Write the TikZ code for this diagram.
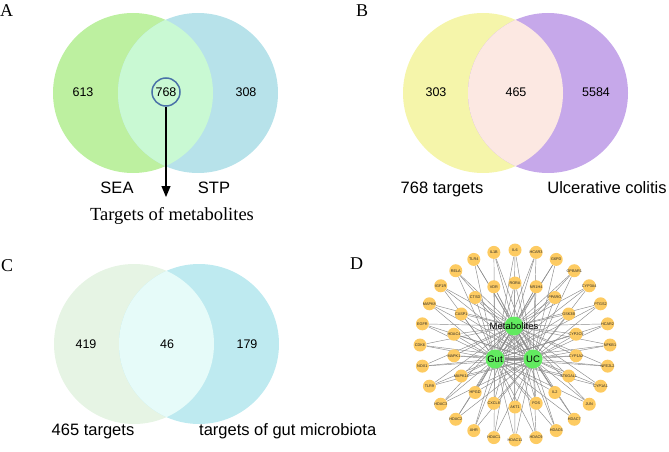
\documentclass[tikz,border=0pt]{standalone}
\usepackage{fontspec}
\setmainfont{Liberation Serif}
\setsansfont{Liberation Sans}
\usetikzlibrary{arrows.meta}
\pgfdeclarelayer{bg}
\pgfsetlayers{bg,main}
\definecolor{aL}{HTML}{BDF0A0}
\definecolor{aR}{HTML}{B7E2EA}
\definecolor{aI}{HTML}{C9F9D3}
\definecolor{bL}{HTML}{F5F5AA}
\definecolor{bR}{HTML}{C6A8EA}
\definecolor{bI}{HTML}{FCE8E2}
\definecolor{cL}{HTML}{E6F4E4}
\definecolor{cR}{HTML}{BEEAF0}
\definecolor{cI}{HTML}{E6FBF9}
\definecolor{nodeY}{HTML}{FDCB62}
\definecolor{hubG}{HTML}{62EA60}
\definecolor{edgeG}{HTML}{8A8A8A}
\definecolor{ringB}{HTML}{4A72A8}
\begin{document}
\begin{tikzpicture}[x=1pt,y=-1pt,
  num/.style={font=\sffamily\fontsize{12.5}{14}\selectfont, anchor=base, inner sep=0},
  vcap/.style={font=\sffamily\fontsize{16.5}{18}\selectfont, anchor=base, inner sep=0},
  letter/.style={font=\fontsize{18}{20}\selectfont, anchor=base west, inner sep=0},
  serifcap/.style={font=\fontsize{18.5}{20}\selectfont, anchor=base, inner sep=0},
  tgt/.style={circle, fill=nodeY, minimum size=13pt, inner sep=0},
  tlab/.style={font=\sffamily\fontsize{3.8}{4}\selectfont, text=black!85, inner sep=0},
  hub/.style={circle, fill=hubG, minimum size=19pt, inner sep=0},
  hlab/.style={font=\sffamily\fontsize{9.5}{10}\selectfont, inner sep=0},
  edge/.style={draw=edgeG, line width=0.45pt}]
\useasboundingbox (0,0) rectangle (669,452);

% ---------- Panel A ----------
\node[letter] (lA) at (0,17) {A};
\fill[aL] (133,93) circle[radius=80pt];
\fill[aR] (198,93) circle[radius=80pt];
\begin{scope}
  \clip (133,93) circle[radius=80pt];
  \fill[aI] (198,93) circle[radius=80pt];
\end{scope}
\node[num] (a613) at (83,96) {613};
\node[num] (a308) at (246,96) {308};
\node[circle, draw=ringB, line width=1.5pt, minimum size=28pt, inner sep=0,
      font=\sffamily\fontsize{12.5}{14}\selectfont] (ring) at (166,92) {768};
\coordinate (arrEnd) at (166,197);
\draw[line width=1.1pt, -{Triangle[width=9pt,length=11pt]}] (ring.south) -- (arrEnd);
\node[vcap] (sea) at (117,193) {SEA};
\node[vcap] (stp) at (214,193) {STP};
\node[serifcap] (tom) at (172,220) {Targets of metabolites};

% ---------- Panel B ----------
\node[letter] (lB) at (356,17) {B};
\fill[bL] (483,93) circle[radius=80pt];
\fill[bR] (548,93) circle[radius=80pt];
\begin{scope}
  \clip (483,93) circle[radius=80pt];
  \fill[bI] (548,93) circle[radius=80pt];
\end{scope}
\node[num] (b303) at (436,96) {303};
\node[num] (b465) at (516,96) {465};
\node[num] (b5584) at (596,96) {5584};
\node[vcap] (b768) at (442,193) {768 targets};
\node[vcap] (buc) at (607,193) {Ulcerative colitis};

% ---------- Panel C ----------
\node[letter] (lC) at (1,271) {C};
\fill[cL] (134,344) circle[radius=80pt];
\fill[cR] (199,344) circle[radius=80pt];
\begin{scope}
  \clip (134,344) circle[radius=80pt];
  \fill[cI] (199,344) circle[radius=80pt];
\end{scope}
\node[num] (c419) at (86,348) {419};
\node[num] (c46) at (167,348) {46};
\node[num] (c179) at (247,348) {179};
\node[vcap] (c465) at (93,435) {465 targets};
\node[vcap, anchor=base west] (cgut) at (199,435) {targets of gut microbiota};

% ---------- Panel D ----------
\node[letter] (lD) at (350,269) {D};
\node[hub] (met) at (514,326) {};
\node[hub] (gut) at (495,359) {};
\node[hub] (uc)  at (533,359) {};
\node[hlab] (metL) at (met) {Metabolites};
\node[hlab] (gutL) at (gut) {Gut};
\node[hlab] (ucL) at (uc) {UC};

\foreach \lab [count=\i from 0] in {IL6,HCAR3,G6PD,GPBAR1,CYP3A4,PTGS2,HCAR2,NFKB1,NFE2L2,CYP1A1,JUN,HDAC7,HDAC6,HDAC9,HDAC11,HDAC1,AHR,HDAC2,HDAC3,TLR9,NOX1,CDK6,EGFR,MAPK8,IGF1R,RELA,TLR4,IL1B}{
  \pgfmathsetmacro\ang{90-\i*360/28}
  \node[tgt, label={[tlab]center:\lab}] (o\i) at ({515+95*cos(\ang)},{345-95*sin(\ang)}) {};
}
\foreach \lab [count=\i from 0] in {RORA,NR1H4,PPARG,GSK3B,CYP2C9,CYP1A2,ST6GAL1,IL2,FOS,AKT1,CXCL8,HPGD,MAPK14,MAPK1,HDAC4,CASP1,CTSD,VDR}{
  \pgfmathsetmacro\ang{90-\i*20}
  \node[tgt, label={[tlab]center:\lab}] (n\i) at ({515+62*cos(\ang)},{345-62*sin(\ang)}) {};
}
\begin{pgfonlayer}{bg}
  \foreach \i in {0,...,27}{
    \foreach \h in {met,gut,uc}{ \draw[edge] (o\i) -- (\h); }
  }
  \foreach \i in {0,...,17}{
    \foreach \h in {met,gut,uc}{ \draw[edge] (n\i) -- (\h); }
  }
  \draw[edge] (met) -- (gut);
  \draw[edge] (met) -- (uc);
  \draw[edge, line width=1.5pt] (gut) -- (uc);
\end{pgfonlayer}
\end{tikzpicture}
\end{document}
